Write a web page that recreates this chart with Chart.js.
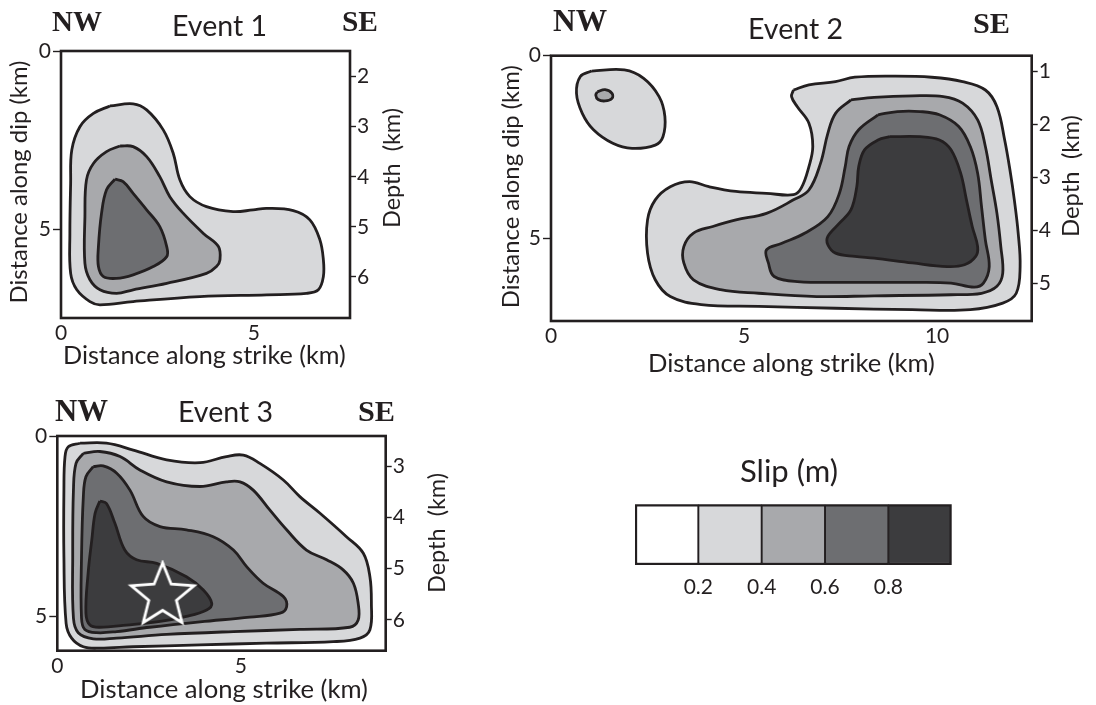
<!DOCTYPE html>
<html><head><meta charset="utf-8">
<script src="https://cdn.jsdelivr.net/npm/chart.js@4.4.1/dist/chart.umd.min.js"></script>
<style>
html,body{margin:0;padding:0;background:#fff;width:1096px;height:705px;overflow:hidden}
canvas{position:absolute;left:0;top:0}
</style></head><body>
<canvas id="c1" width="1096" height="705"></canvas>
<canvas id="c2" width="1096" height="705"></canvas>
<canvas id="c3" width="1096" height="705"></canvas>
<canvas id="c4" width="1096" height="705"></canvas>
<script>
// ---------------- DATA (km along strike, km along dip) ----------------
const slipLevels = [0.2, 0.4, 0.6, 0.8];
const slipColors = ['#ffffff', '#d7d8da', '#a8a9ac', '#6d6e71', '#3c3c3e'];

// Event 1 ticks
const e1StrikeTicks = [0, 5];
const e1DipTicks = [0, 5];
const e1DepthTicks = [2, 3, 4, 5, 6];
// Event 1 contours
const e1_c02 = [[1.27,1.54],[1.87,1.48],[2.22,1.65],[2.65,2.21],[2.91,2.87],[3.08,3.61],[3.34,4.08],[3.77,4.36],[4.46,4.50],[4.98,4.45],[5.33,4.41],[6.02,4.47],[6.45,4.73],[6.71,5.29],[6.80,5.85],[6.80,6.32],[6.67,6.69],[6.36,6.79],[5.33,6.83],[3.60,6.88],[1.87,7.02],[1.01,7.11],[0.75,7.02],[0.41,6.69],[0.25,6.23],[0.23,5.11],[0.25,3.71],[0.28,2.77],[0.49,2.12],[0.84,1.75]];
const e1_c04 = [[1.53,2.66],[1.87,2.68],[2.22,2.96],[2.56,3.52],[2.82,4.08],[3.17,4.55],[3.69,5.11],[4.08,5.48],[4.12,5.85],[4.03,6.04],[3.77,6.23],[2.74,6.51],[1.87,6.69],[1.44,6.79],[1.01,6.69],[0.75,6.41],[0.62,5.95],[0.62,4.64],[0.66,3.61],[0.84,3.15],[1.18,2.82]];
const e1_c06 = [[1.40,3.59],[1.61,3.66],[1.87,3.99],[2.22,4.45],[2.56,4.92],[2.74,5.48],[2.74,5.76],[2.39,6.04],[1.87,6.27],[1.44,6.37],[1.10,6.32],[0.97,6.04],[0.97,5.48],[1.05,4.55],[1.18,3.89]];

// Event 2 ticks
const e2StrikeTicks = [0, 5, 10];
const e2DipTicks = [0, 5];
const e2DepthTicks = [1, 2, 3, 4, 5];
// Event 2 contours
const e2_a02 = [[1.05,0.42],[1.90,0.39],[2.40,0.62],[2.80,1.12],[2.95,1.67],[2.90,2.22],[2.70,2.45],[2.10,2.54],[1.60,2.40],[1.10,2.03],[0.81,1.58],[0.66,1.03],[0.76,0.57]];
const e2_a04 = [[1.20,0.99],[1.40,0.93],[1.58,1.03],[1.58,1.17],[1.40,1.24],[1.22,1.20],[1.16,1.08]];
const e2_b02 = [[6.28,0.94],[6.68,0.80],[7.37,0.71],[7.87,0.59],[8.87,0.56],[9.86,0.59],[10.66,0.71],[11.25,0.94],[11.55,1.40],[11.75,2.31],[11.90,3.22],[12.00,3.95],[12.10,4.86],[12.15,5.78],[12.05,6.51],[11.70,6.78],[10.86,6.96],[9.36,6.96],[7.37,6.92],[5.38,6.87],[3.89,6.82],[3.09,6.60],[2.70,6.14],[2.50,5.41],[2.50,4.50],[2.70,3.95],[3.09,3.59],[3.59,3.45],[4.09,3.59],[4.79,3.72],[5.58,3.77],[6.28,3.81],[6.48,3.63],[6.68,3.04],[6.78,2.49],[6.68,1.85],[6.38,1.40],[6.23,1.12]];
const e2_b04 = [[7.77,1.21],[8.37,1.14],[9.36,1.10],[10.16,1.12],[10.66,1.30],[11.05,1.76],[11.25,2.49],[11.40,3.40],[11.55,4.32],[11.65,5.23],[11.70,5.96],[11.55,6.32],[11.15,6.51],[10.36,6.55],[8.37,6.58],[6.88,6.60],[5.38,6.51],[4.39,6.41],[3.69,6.14],[3.44,5.68],[3.44,5.23],[3.69,4.86],[4.19,4.68],[4.79,4.50],[5.58,4.32],[6.28,3.95],[6.68,3.68],[6.98,2.95],[7.17,2.13],[7.37,1.58]];
const e2_b06 = [[8.47,1.62],[8.97,1.53],[9.56,1.53],[10.06,1.62],[10.56,1.94],[10.86,2.49],[11.05,3.22],[11.15,4.13],[11.25,5.05],[11.35,5.78],[11.20,6.23],[10.96,6.34],[10.36,6.23],[9.36,6.21],[7.87,6.21],[6.38,6.19],[5.78,6.05],[5.63,5.68],[5.58,5.32],[5.98,5.14],[6.58,4.86],[7.17,4.41],[7.47,3.77],[7.62,3.04],[7.72,2.49],[7.97,2.03]];
const e2_b08 = [[8.77,2.22],[9.56,2.22],[10.06,2.31],[10.36,2.58],[10.61,3.22],[10.76,3.95],[10.91,4.68],[11.05,5.23],[11.00,5.50],[10.71,5.73],[10.26,5.78],[9.36,5.68],[8.37,5.55],[7.87,5.50],[7.37,5.41],[7.17,5.18],[7.17,4.95],[7.47,4.59],[7.77,4.22],[7.92,3.59],[7.97,3.04],[8.12,2.58],[8.47,2.31]];

// Event 3 ticks
const e3StrikeTicks = [0, 5];
const e3DipTicks = [0, 5];
const e3DepthTicks = [3, 4, 5, 6];
// Event 3 contours
const e3_c02 = [[0.62,0.20],[1.34,0.20],[2.07,0.39],[2.98,0.66],[3.89,0.74],[4.61,0.57],[5.07,0.53],[5.52,0.76],[6.16,1.22],[6.61,1.68],[7.16,2.14],[7.88,2.79],[8.34,3.25],[8.52,3.90],[8.56,4.64],[8.52,5.37],[8.25,5.60],[7.52,5.70],[5.70,5.74],[3.89,5.79],[2.07,5.84],[1.16,5.88],[0.71,5.84],[0.39,5.60],[0.24,5.19],[0.18,3.34],[0.18,1.50],[0.21,0.57],[0.30,0.30]];
const e3_c04 = [[0.71,0.48],[1.16,0.43],[1.71,0.57],[2.25,0.94],[2.98,1.27],[3.89,1.40],[4.61,1.27],[4.98,1.27],[5.34,1.50],[5.79,2.05],[6.25,2.60],[6.79,3.16],[7.34,3.43],[7.79,3.71],[8.07,4.08],[8.20,4.64],[8.20,5.10],[7.97,5.30],[6.61,5.36],[4.80,5.42],[2.98,5.50],[1.62,5.60],[0.98,5.62],[0.57,5.45],[0.44,5.05],[0.42,3.34],[0.44,1.50],[0.51,0.76]];
const e3_c06 = [[0.98,0.85],[1.25,0.83],[1.62,1.03],[1.98,1.50],[2.34,2.23],[2.80,2.51],[3.52,2.60],[4.25,2.79],[4.80,3.16],[5.16,3.62],[5.61,4.08],[6.16,4.45],[6.25,4.73],[6.07,4.91],[5.25,5.02],[3.89,5.15],[2.52,5.30],[1.62,5.42],[1.07,5.45],[0.75,5.36],[0.66,5.05],[0.66,3.34],[0.71,1.68],[0.78,1.13]];
const e3_c08 = [[1.16,1.80],[1.34,1.87],[1.57,2.42],[1.84,3.16],[2.16,3.43],[2.71,3.53],[3.52,3.90],[3.98,4.27],[4.21,4.64],[4.07,4.82],[3.52,5.00],[2.80,5.14],[1.89,5.24],[1.16,5.30],[0.89,5.24],[0.78,4.91],[0.84,3.80],[0.94,2.88],[1.03,2.14]];
const e3_hypocenter = [2.87, 4.43];

// ---------------- STYLE ----------------
const INK = '#231f20';
const SANS = 'Lato';
const SERIF = '"Liberation Serif", "Times New Roman", serif';
Chart.defaults.font.family = SANS;
Chart.defaults.color = INK;

function contour(pts, levelIdx) {
  const d = pts.map(p => ({x: p[0], y: p[1]}));
  d.push({x: pts[0][0], y: pts[0][1]});
  return {
    data: d, backgroundColor: slipColors[levelIdx], borderColor: INK, borderWidth: 2.8,
    fill: 'shape', tension: 0.38, pointRadius: 0, order: 20 - levelIdx
  };
}

function starImage(R, r) {
  const c = document.createElement('canvas');
  const s = Math.ceil(2 * R + 6);
  c.width = s; c.height = s;
  const g = c.getContext('2d');
  g.translate(s / 2, s / 2);
  g.beginPath();
  for (let i = 0; i < 10; i++) {
    const a = -Math.PI / 2 + i * Math.PI / 5;
    const rr = i % 2 === 0 ? R : r;
    g.lineTo(rr * Math.cos(a), rr * Math.sin(a));
  }
  g.closePath();
  g.strokeStyle = '#ffffff'; g.lineWidth = 2.8; g.lineJoin = 'miter';
  g.stroke();
  return c;
}

// text plugin: fits each text to its measured width
const textPlugin = {
  id: 'panelText',
  afterDraw(chart, args, opts) {
    const ctx = chart.ctx;
    (opts.items || []).forEach(it => {
      ctx.save();
      const fam = it.serif ? SERIF : SANS;
      const wt = it.bold ? 'bold ' : '';
      ctx.font = wt + '100px ' + fam;
      const m = ctx.measureText(it.t).width;
      const size = 100 * it.w / m;
      ctx.font = wt + size.toFixed(2) + 'px ' + fam;
      ctx.fillStyle = INK;
      if (it.rot) {
        ctx.translate(it.cx, it.cy);
        ctx.rotate(-Math.PI / 2);
        ctx.textAlign = 'center'; ctx.textBaseline = 'middle';
        ctx.fillText(it.t, 0, 0);
      } else {
        ctx.textAlign = 'left'; ctx.textBaseline = 'alphabetic';
        ctx.fillText(it.t, it.x, it.y);
      }
      ctx.restore();
    });
  }
};

const framePlugin = {
  id: 'frame',
  afterDatasetsDraw(chart, args, opts) {
    if (!opts.on) return;
    const a = chart.chartArea, ctx = chart.ctx;
    ctx.save();
    ctx.strokeStyle = INK; ctx.lineWidth = 2.6;
    ctx.strokeRect(a.left, a.top, a.right - a.left, a.bottom - a.top);
    ctx.restore();
  }
};

function fixedTicks(arr) {
  return function (s) { s.ticks = arr.map(v => ({value: v})); };
}

function panel(id, p) {
  const WL = 44, WR = 44, HB = 34;
  return new Chart(document.getElementById(id), {
    type: 'line',
    data: {datasets: p.datasets},
    plugins: [textPlugin, framePlugin],
    options: {
      responsive: false, animation: false, events: [],
      layout: {autoPadding: false, padding: {left: p.l - WL, right: 1096 - p.r - WR, top: p.t, bottom: 705 - p.b - HB}},
      plugins: {legend: {display: false}, tooltip: {enabled: false}, frame: {on: true}, panelText: {items: p.texts}},
      scales: {
        x: {type: 'linear', position: 'bottom', min: 0, max: p.xMax,
          afterBuildTicks: fixedTicks(p.xTicks),
          afterFit(s) { s.height = HB; s.paddingLeft = 0; s.paddingRight = 0; },
          grid: {display: false, drawTicks: false}, border: {display: false},
          ticks: {autoSkip: false, maxRotation: 0, padding: p.xPad, font: {size: p.fs}, color: INK, callback: v => String(v)}},
        y: {type: 'linear', position: 'left', reverse: true, min: 0, max: p.yMax,
          afterBuildTicks: fixedTicks(p.yTicks),
          afterFit(s) { s.width = WL; s.paddingTop = 0; s.paddingBottom = 0; },
          grid: {display: true, drawOnChartArea: false, drawTicks: true, tickLength: 8, tickColor: INK, tickWidth: 1.4},
          border: {display: false},
          ticks: {autoSkip: false, padding: 2, font: {size: p.fs}, color: INK, callback: v => String(v)}},
        y2: {type: 'linear', position: 'right', reverse: true, min: p.dMin, max: p.dMax,
          afterBuildTicks: fixedTicks(p.dTicks),
          afterFit(s) { s.width = WR; s.paddingTop = 0; s.paddingBottom = 0; },
          grid: {display: true, drawOnChartArea: false, drawTicks: true, tickLength: 6, tickColor: INK, tickWidth: 1.4},
          border: {display: false},
          ticks: {autoSkip: false, padding: 1, font: {size: p.fs}, color: INK, callback: v => String(v)}}
      }
    }
  });
}

// Event 1
panel('c1', {
  l: 61, t: 51, r: 350, b: 318, xMax: 7.49, yMax: 7.48, dMin: 1.49, dMax: 6.82,
  xTicks: e1StrikeTicks, yTicks: e1DipTicks, dTicks: e1DepthTicks, fs: 21, xPad: 3,
  datasets: [contour(e1_c02, 1), contour(e1_c04, 2), contour(e1_c06, 3)],
  texts: [
    {t: 'NW', x: 52, y: 30.7, w: 50, serif: true, bold: true},
    {t: 'Event 1', x: 172, y: 36, w: 95},
    {t: 'SE', x: 342, y: 30.7, w: 36, serif: true, bold: true},
    {t: 'Distance along strike (km)', x: 63, y: 364, w: 283},
    {t: 'Distance along dip (km)', cx: 19, cy: 182, w: 243, rot: true},
    {t: 'Depth  (km)', cx: 392, cy: 168, w: 120, rot: true}
  ]
});

// Event 2
panel('c2', {
  l: 551, t: 55.7, r: 1031.7, b: 321, xMax: 12.45, yMax: 7.27, dMin: 0.70, dMax: 5.71,
  xTicks: e2StrikeTicks, yTicks: e2DipTicks, dTicks: e2DepthTicks, fs: 21, xPad: 3,
  datasets: [contour(e2_a02, 1), contour(e2_a04, 2), contour(e2_b02, 1), contour(e2_b04, 2), contour(e2_b06, 3), contour(e2_b08, 4)],
  texts: [
    {t: 'NW', x: 553, y: 30.7, w: 54, serif: true, bold: true},
    {t: 'Event 2', x: 748, y: 39.3, w: 95},
    {t: 'SE', x: 973, y: 33.3, w: 37, serif: true, bold: true},
    {t: 'Distance along strike (km)', x: 648, y: 371.7, w: 287},
    {t: 'Distance along dip (km)', cx: 511.7, cy: 186.7, w: 243, rot: true},
    {t: 'Depth  (km)', cx: 1071, cy: 176, w: 122, rot: true}
  ]
});

// Event 3
const star = starImage(33, 14.5);
panel('c3', {
  l: 57.3, t: 436, r: 385.7, b: 650.7, xMax: 8.95, yMax: 5.95, dMin: 2.415, dMax: 6.6,
  xTicks: e3StrikeTicks, yTicks: e3DipTicks, dTicks: e3DepthTicks, fs: 21, xPad: 3,
  datasets: [contour(e3_c02, 1), contour(e3_c04, 2), contour(e3_c06, 3), contour(e3_c08, 4),
    {data: [{x: e3_hypocenter[0], y: e3_hypocenter[1]}], showLine: false, pointStyle: star, pointRadius: 33, order: 0}],
  texts: [
    {t: 'NW', x: 55, y: 420.7, w: 53, serif: true, bold: true},
    {t: 'Event 3', x: 178, y: 422.3, w: 95},
    {t: 'SE', x: 358, y: 420.7, w: 37, serif: true, bold: true},
    {t: 'Distance along strike (km)', x: 80, y: 698.3, w: 288},
    {t: 'Depth  (km)', cx: 437, cy: 533, w: 120, rot: true}
  ]
});

// Slip colour scale
const legL = 635, legR = 951.7, legT = 504.3, legB = 565;
new Chart(document.getElementById('c4'), {
  type: 'bar',
  data: {
    labels: ['slip'],
    datasets: slipColors.map((c, i) => ({
      data: [0.2], backgroundColor: c, borderColor: INK, borderSkipped: false,
      borderWidth: {top: 2.5, bottom: 2.5, left: i === 0 ? 2.5 : 1.3, right: i === slipColors.length - 1 ? 2.5 : 1.3},
      barPercentage: 1, categoryPercentage: 1
    }))
  },
  plugins: [textPlugin],
  options: {
    indexAxis: 'y', responsive: false, animation: false, events: [],
    layout: {autoPadding: false, padding: {left: legL, right: 1096 - legR, top: legT, bottom: 705 - legB - 34}},
    plugins: {legend: {display: false}, tooltip: {enabled: false},
      panelText: {items: [{t: 'Slip (m)', x: 740, y: 482.3, w: 98}]}},
    scales: {
      x: {type: 'linear', stacked: true, min: 0, max: 1, position: 'bottom',
        afterBuildTicks: fixedTicks(slipLevels),
        afterFit(s) { s.height = 34; s.paddingLeft = 0; s.paddingRight = 0; },
        grid: {display: false, drawTicks: false}, border: {display: false},
        ticks: {autoSkip: false, maxRotation: 0, padding: 10, font: {size: 21}, color: INK, callback: v => v.toFixed(1)}},
      y: {stacked: true, display: false}
    }
  }
});
</script>
</body></html>
